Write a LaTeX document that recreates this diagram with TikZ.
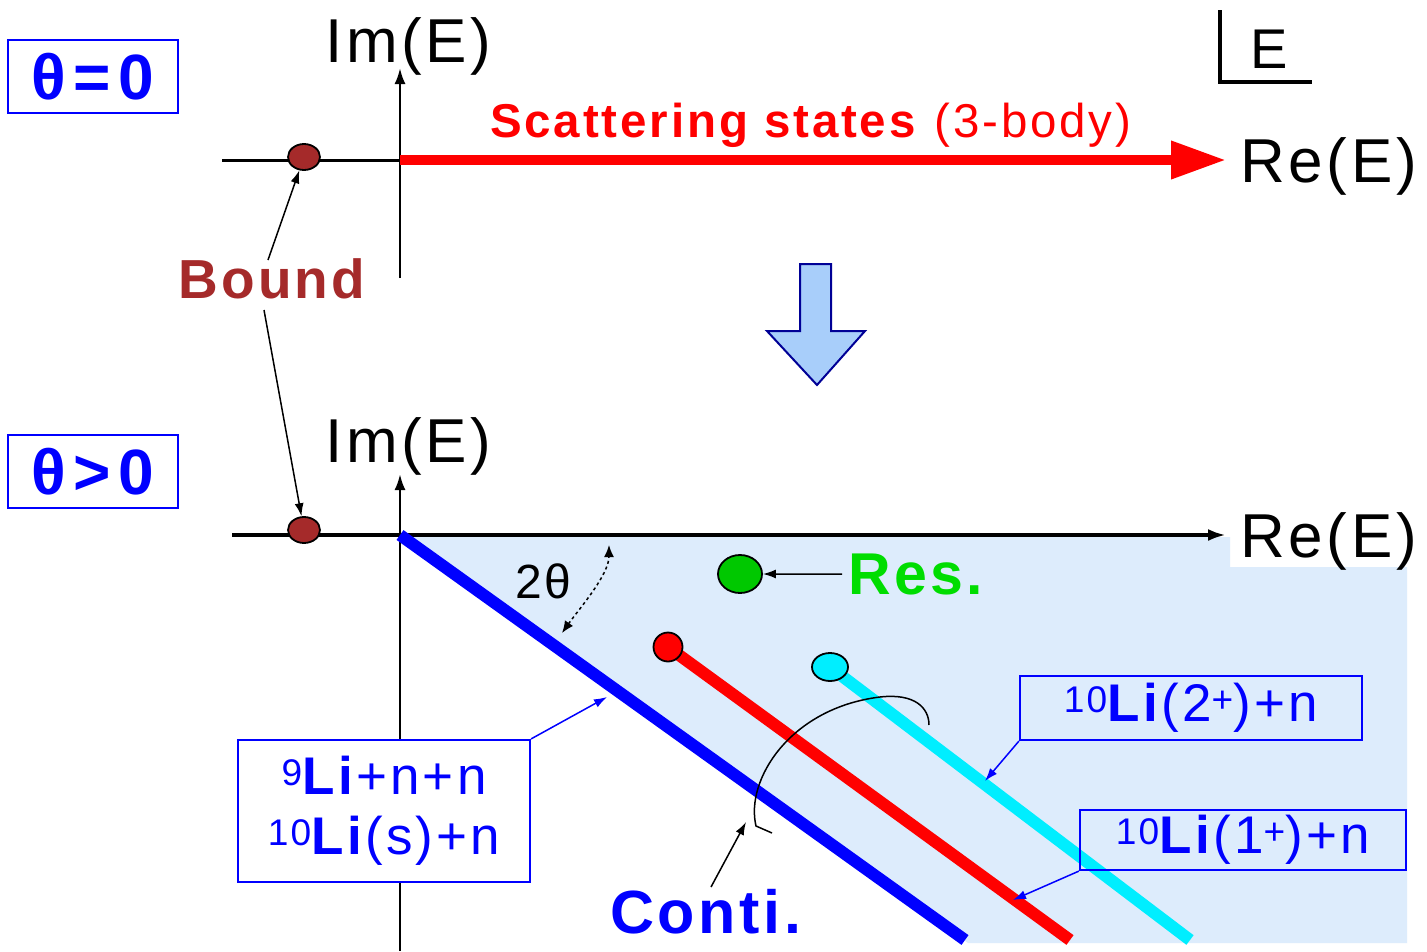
\documentclass[tikz,border=0pt]{standalone}
\usepackage{fontspec}
\setmainfont{Liberation Sans}[LetterSpace=6]
\usetikzlibrary{arrows.meta,shapes.geometric}
\definecolor{bgblue}{RGB}{221,236,252}
\definecolor{brownb}{RGB}{165,42,42}
\definecolor{resgreen}{RGB}{0,221,0}
\definecolor{dotgreen}{RGB}{0,200,0}
\definecolor{arrfill}{RGB}{168,206,250}
\definecolor{arrdraw}{RGB}{0,0,150}
\definecolor{cyanl}{RGB}{0,238,255}
\newcommand{\fsz}[2]{\fontsize{#1}{#2}\selectfont}
\begin{document}
\begin{tikzpicture}[x=1pt,y=-1pt,
  txt/.style={inner sep=0pt, anchor=base west},
  arr/.style={line width=1.5pt, -{Latex[length=13pt,width=9pt]}},
  dot/.style={ellipse, draw=black, line width=1.8pt, inner sep=0pt},
  thbox/.style={draw=blue, line width=2.5pt, text=blue, minimum width=170pt,
    minimum height=73pt, inner sep=0pt, font=\fsz{64}{64}\bfseries\addfontfeature{LetterSpace=12}},
  libox/.style={draw=blue, line width=2.2pt, text=blue, inner sep=0pt},
  axarrow/.style={-{Latex[length=16pt,width=11pt]}}
]
\useasboundingbox (0,0) rectangle (1427,951);
\fill[white] (0,0) rectangle (1427,951);

% ---------- top panel ----------
\node[thbox] (th0) at (93,76.5) {θ=0};
\coordinate (tl) at (222,160);
\coordinate (O1) at (400,160);
\coordinate (yb1) at (400,278);
\coordinate (yt1) at (400,68);
\coordinate (xr1) at (1226,160);
\draw[line width=3pt] (tl) -- (O1);
\draw[line width=2.5pt, axarrow] (yb1) -- (yt1);
\draw[red, line width=10pt, -{Triangle[length=55pt,width=36pt]}] (O1) -- (xr1);
\node[txt, text=red, font=\fsz{47.5}{47.5}] (scat) at (490,137) {\textbf{Scattering states} (3-body)};
\node[txt, font=\fsz{62}{62}] (im1) at (325,62) {Im(E)};
\node[txt, font=\fsz{62}{62}] (re1) at (1240,182) {Re(E)};
\node[dot, fill=brownb, minimum width=32pt, minimum height=26pt] (bt) at (304,157) {};

% E symbol
\coordinate (Le1) at (1220,10);
\coordinate (Le2) at (1220,82);
\coordinate (Le3) at (1312,82);
\draw[line width=4pt] (Le1) -- (Le2) -- (Le3);
\node[txt, font=\fsz{56}{56}] (Elab) at (1250,68) {E};

% Bound
\node[txt, text=brownb, font=\fsz{55}{55}\bfseries] (bound) at (178,298) {Bound};

% down arrow
\draw[fill=arrfill, draw=arrdraw, line width=2pt]
  (800,264) -- (831,264) -- (831,331) -- (865,331) -- (817,385) -- (767,331) -- (800,331) -- cycle;

% ---------- bottom panel ----------
\node[thbox] (th1) at (93,471.5) {θ>0};
\fill[bgblue] (402,537) -- (1230,537) -- (1230,567) -- (1407,567) -- (1407,943) -- (968,943) -- cycle;

\coordinate (O2) at (400,535);
\coordinate (bl2) at (232,535);
\coordinate (xr2) at (1226,535);
\coordinate (yb2) at (400,951);
\coordinate (yt2) at (400,474);
\draw[line width=2.5pt, axarrow] (yb2) -- (yt2);
\draw[line width=4pt, -{Latex[length=18pt,width=12pt]}] (bl2) -- (xr2);

\coordinate (ble) at (965,940);
\coordinate (rdc) at (668,647);
\coordinate (rde) at (1070,940);
\coordinate (cdc) at (830,667);
\coordinate (cde) at (1190,940);
\draw[blue, line width=12pt] (O2) -- (ble);
\draw[red, line width=12pt] (rdc) -- (rde);
\draw[cyanl, line width=12pt] (cdc) -- (cde);
\node[dot, fill=red, minimum width=29pt, minimum height=29pt] (rd) at (rdc) {};
\node[dot, fill=cyanl, minimum width=36pt, minimum height=28pt] (cd) at (cdc) {};
\node[dot, fill=dotgreen, minimum width=44pt, minimum height=38pt] (gd) at (740,574) {};
\node[dot, fill=brownb, minimum width=32pt, minimum height=26pt] (bb) at (304,530) {};

\node[txt, font=\fsz{62}{62}] (im2) at (325,462) {Im(E)};
\node[txt, font=\fsz{62}{62}] (re2) at (1240,557) {Re(E)};

% Res.
\node[txt, text=resgreen, font=\fsz{59}{59}\bfseries] (res) at (848,594) {Res.};
\draw[arr] ([xshift=-6pt]res.west) -- (gd.east);

% 2theta
\node[txt, font=\fsz{48}{48}] (tt) at (515,598) {2θ};
\coordinate (a1) at (562,633);
\coordinate (a2) at (609,545);
\draw[dashed, line width=1.5pt, {Latex[length=12pt,width=10pt]}-{Latex[length=12pt,width=10pt]}]
  (a1) .. controls (579,609) and (609,575) .. (a2);

% Bound arrows
\coordinate (bs1) at (268,260);
\coordinate (bs2) at (264,310);
\draw[arr] (bs1) -- (bt);
\draw[arr] (bs2) -- (bb);

% Conti.
\node[txt, text=blue, font=\fsz{61}{61}\bfseries] (conti) at (610,933) {Conti.};
\coordinate (c1) at (772,833);
\coordinate (c2) at (929,725);
\coordinate (ct) at (746,822);
\draw[line width=1.5pt] (c1) -- (756,826) .. controls (745,780) and (790,708) .. (880,697)
  .. controls (915,693) and (929,708) .. (c2);
\draw[arr] (711,887) -- (ct);

% boxes
\node[libox, fill=white, minimum width=292pt, minimum height=142pt, align=center,
  font=\fsz{53}{60}] (b1) at (384,811)
  {\textsuperscript{9}\textbf{Li}+n+n\\\textsuperscript{10}\textbf{Li}(s)+n};
\node[libox, minimum width=342pt, minimum height=64pt, font=\fsz{53}{53}] (b2) at (1191,708)
  {\textsuperscript{10}\textbf{Li}(2\textsuperscript{+})+n};
\node[libox, minimum width=326pt, minimum height=60pt, font=\fsz{53}{53}] (b3) at (1243,840)
  {\textsuperscript{10}\textbf{Li}(1\textsuperscript{+})+n};
\coordinate (p1) at (607,697);
\coordinate (p2) at (985,781);
\coordinate (p3) at (1013,900);
\draw[arr, blue] (b1.north east) -- (p1);
\draw[arr, blue] (b2.south west) -- (p2);
\draw[arr, blue] (b3.south west) -- (p3);
\end{tikzpicture}
\end{document}
